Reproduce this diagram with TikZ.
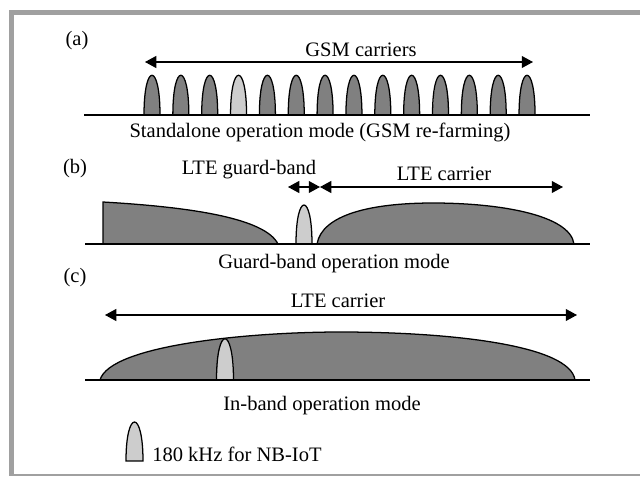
\documentclass[tikz,border=0pt]{standalone}
\usepackage{fontspec}
\setmainfont{Liberation Serif}
\usepackage{xcolor}
\usepackage{tikz}
\usetikzlibrary{arrows.meta}
\definecolor{framegray}{RGB}{160,160,160}
\definecolor{bandgray}{RGB}{128,128,128}
\definecolor{iotgray}{RGB}{205,205,205}
\tikzstyle{lbl} = [inner sep=0pt, anchor=base, font=\fontsize{14.6}{17}\selectfont]
\tikzstyle{arrow} = [line width=0.8pt, {Triangle[length=8pt,width=8.5pt]}-{Triangle[length=8pt,width=8.5pt]}]
\tikzstyle{band} = [draw=black, line width=0.9pt, fill=bandgray]
\tikzstyle{iot} = [draw=black, line width=0.9pt, fill=iotgray]
\tikzstyle{axis} = [line width=1.1pt]

\begin{document}
\begin{tikzpicture}[x=0.025cm, y=-0.025cm]
        \useasboundingbox (0,0) rectangle (640,476);
        % frame
        \fill [framegray] (9,10) rectangle (640,15);
        \fill [framegray] (9,10) rectangle (14,476);
        \fill [framegray] (9,474) rectangle (640,476);

        % labels
        \node (lbla) [lbl] at (77,45) {(a)};
        \node (gsm) [lbl] at (361,56) {GSM carriers};
        \node (sa) [lbl] at (320,137) {Standalone operation mode (GSM re-farming)};
        \node (lblb) [lbl] at (75,173) {(b)};
        \node (guard) [lbl] at (249,174) {LTE guard-band};
        \node (lteb) [lbl] at (444,180) {LTE carrier};
        \node (gb) [lbl] at (334,268) {Guard-band operation mode};
        \node (lblc) [lbl] at (75,282) {(c)};
        \node (ltec) [lbl] at (338,307) {LTE carrier};
        \node (ib) [lbl] at (322,410) {In-band operation mode};
        \node (leg) [lbl, anchor=base west] at (152,461) {180 kHz for NB-IoT};

        % arrow ends
        \coordinate (ga1) at (145,62);
        \coordinate (ga2) at (533,62);
        \coordinate (gb1) at (288,187);
        \coordinate (gb2) at (320,187);
        \coordinate (gb3) at (563,187);
        \coordinate (ca1) at (105,315);
        \coordinate (ca2) at (577,315);

        % (a) GSM carriers
        \foreach \i in {0,...,13} {
            \pgfmathsetmacro\cx{152+28.85*\i}
            \ifnum\i=3
                \draw [iot] (\cx-8,115) .. controls (\cx-8,62) and (\cx+8,62) .. (\cx+8,115) -- cycle;
            \else
                \draw [band] (\cx-8,115) .. controls (\cx-8,62) and (\cx+8,62) .. (\cx+8,115) -- cycle;
            \fi
        }
        \draw [axis] (84,115) -- (590,115);
        \draw [arrow] (ga1) -- (ga2);

        % (b) guard-band
        \draw [band] (103,244) -- (103,202) .. controls (190,207) and (265,218) .. (278,244) -- cycle;
        \draw [band] (317,244) .. controls (322,215) and (370,203) .. (433,203) .. controls (500,203) and (570,215) .. (574,244) -- cycle;
        \draw [iot] (296,244) .. controls (296,192) and (312,192) .. (312,244) -- cycle;
        \draw [axis] (85,244) -- (590,244);
        \draw [arrow] (gb1) -- (gb2);
        \draw [arrow] (gb2) -- (gb3);

        % (c) in-band
        \draw [band] (100,380) .. controls (110,345) and (250,332) .. (340,332) .. controls (450,332) and (570,345) .. (575,380) -- cycle;
        \draw [iot] (216.5,380) .. controls (216.5,325) and (233.5,325) .. (233.5,380) -- cycle;
        \draw [axis] (85,380) -- (590,380);
        \draw [arrow] (ca1) -- (ca2);

        % legend
        \draw [iot] (126,461) .. controls (126,409) and (143,409) .. (143,461) -- cycle;
\end{tikzpicture}
\end{document}
